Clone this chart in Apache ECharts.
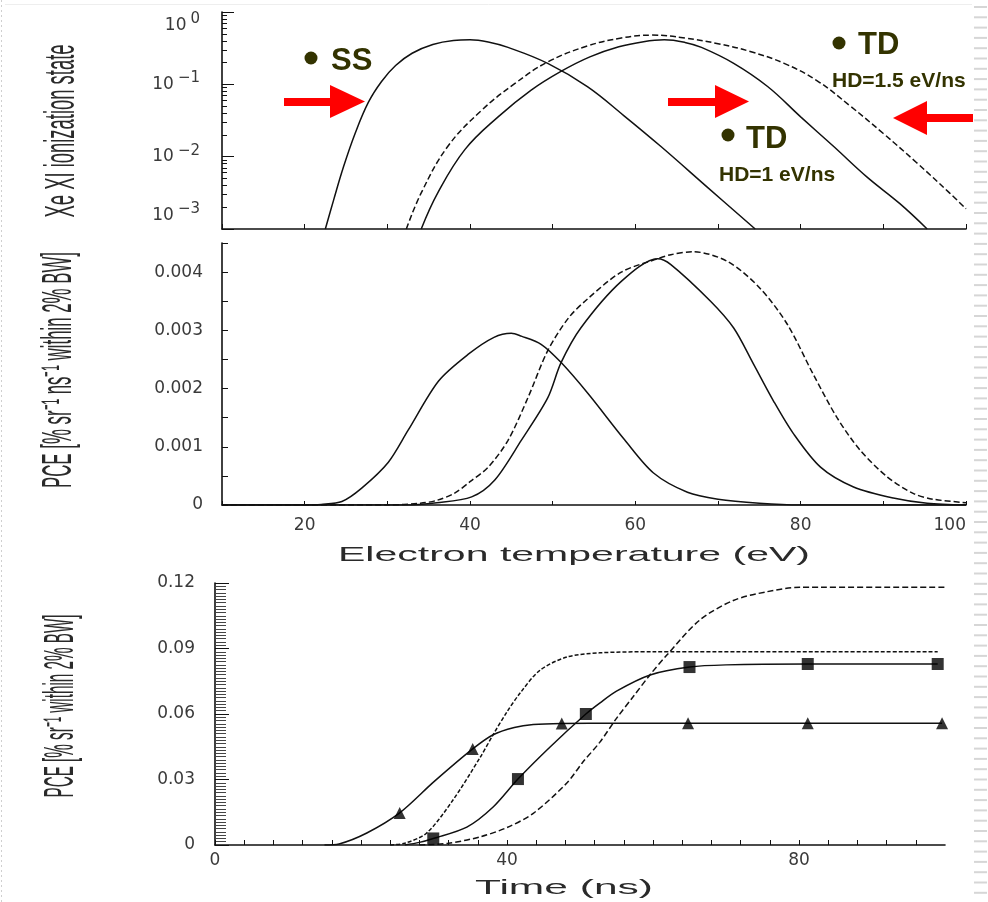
<!DOCTYPE html>
<html><head><meta charset="utf-8">
<script src="https://cdn.jsdelivr.net/npm/echarts@6/dist/echarts.min.js"></script>
<style>html,body{margin:0;padding:0;background:#fff}#c{width:988px;height:902px}</style>
</head><body><div id="c"></div>
<script>
// ---------------- data ----------------
// Top panel: Xe XI ionization state vs electron temperature (log scale)
const ssTopT   = [22.5, 23.5, 24.7, 26.1, 27.7, 29.3, 31.0, 33.0, 35.5, 38.0, 40.0, 42.2, 44.6, 49.4, 54.2, 58.6, 63.1, 68.8, 74.5];
const ssTopV   = [0.001, 0.00251, 0.00724, 0.0209, 0.0562, 0.1096, 0.182, 0.269, 0.355, 0.403, 0.412, 0.385, 0.324, 0.195, 0.093, 0.037, 0.0138, 0.0037, 0.001];
const td1TopT  = [34.1, 36.1, 39.4, 43.4, 47.4, 51.0, 54.5, 58.0, 61.0, 63.5, 66.0, 68.0, 71.9, 76.0, 80.0, 84.0, 88.0, 92.0, 95.3];
const td1TopV  = [0.001, 0.00316, 0.0126, 0.0355, 0.0832, 0.151, 0.24, 0.331, 0.389, 0.412, 0.38, 0.324, 0.195, 0.0933, 0.0355, 0.0138, 0.00525, 0.00224, 0.001];
const td15TopT = [32.3, 34.1, 37.3, 41.4, 45.4, 49.4, 54.2, 58.3, 62.0, 66.0, 70.0, 74.0, 78.0, 82.0, 86.0, 90.0, 94.0, 98.0, 100];
const td15TopV = [0.001, 0.00316, 0.0138, 0.0437, 0.102, 0.204, 0.339, 0.437, 0.479, 0.437, 0.365, 0.282, 0.195, 0.112, 0.0501, 0.0209, 0.00832, 0.00316, 0.0019];

// Middle panel: PCE vs electron temperature
const ssMidT   = [10, 20, 22, 24.5, 26.9, 30.1, 32.5, 36.2, 39.8, 42.9, 45.0, 46.2, 48.6, 51.0, 54.3, 58.7, 62.2, 66.3, 70.0, 75.0, 80.0, 100];
const ssMidV   = [0, 0, 0.00001, 0.00006, 0.00029, 0.00073, 0.00128, 0.00213, 0.00259, 0.00288, 0.00295, 0.0029, 0.00276, 0.00245, 0.00191, 0.00112, 0.00055, 0.00022, 0.0001, 0.00003, 0, 0];
const td1MidT  = [10, 32, 36, 40.2, 43.0, 46.2, 49.4, 51.0, 53.4, 58.3, 62.7, 64.3, 69.1, 71.9, 74.3, 76.7, 79.1, 82.4, 86.4, 91.2, 95.3, 100];
const td1MidV  = [0, 0, 0.00004, 0.00014, 0.00043, 0.00111, 0.00184, 0.00244, 0.00304, 0.00384, 0.00423, 0.00413, 0.0035, 0.00304, 0.00242, 0.00179, 0.00123, 0.00065, 0.00031, 0.00012, 0.00003, 0];
const td15MidT = [10, 30, 34, 36, 38.1, 40, 42.2, 44.6, 47.0, 49.4, 51.9, 54.3, 58.3, 62.7, 64.3, 67.0, 71.2, 75.1, 78.4, 81.5, 84.4, 87.2, 90.5, 93.6, 96.0, 100];
const td15MidV = [0, 0, 0.00003, 0.00008, 0.0002, 0.0004, 0.00065, 0.00111, 0.00184, 0.00265, 0.00321, 0.00355, 0.004, 0.00423, 0.0043, 0.00435, 0.00418, 0.00372, 0.0031, 0.00225, 0.0015, 0.00094, 0.00048, 0.0002, 0.0001, 0.00004];

// Bottom panel: PCE vs time
const triT     = [15, 17, 20.8, 25.3, 30, 35.3, 38.1, 41, 43.6, 47.5, 55, 64.8, 81.2, 99.6];
const triV     = [0, 0.0005, 0.0055, 0.0147, 0.029, 0.044, 0.0505, 0.0538, 0.0552, 0.0557, 0.0558, 0.0558, 0.0558, 0.0558];
const triMarkT = [25.3, 35.3, 47.5, 64.8, 81.2, 99.6];
const triMarkV = [0.0147, 0.044, 0.0557, 0.0558, 0.0558, 0.0558];
const sqT      = [26, 28, 29.9, 34.5, 38.1, 41.5, 45.9, 50.8, 52.7, 55, 59.6, 65, 70, 81.2, 99];
const sqV      = [0, 0.0012, 0.003, 0.0082, 0.0174, 0.0302, 0.0449, 0.060, 0.065, 0.0705, 0.0779, 0.0815, 0.0825, 0.0829, 0.0829];
const sqMarkT  = [29.9, 41.5, 50.8, 65, 81.2, 99];
const sqMarkV  = [0.003, 0.0302, 0.060, 0.0815, 0.0829, 0.0829];
const steepT   = [24, 26, 29, 32.6, 36.3, 38.1, 40, 41.8, 44.5, 48.2, 52.7, 60, 99];
const steepV   = [0, 0.0008, 0.0055, 0.0206, 0.040, 0.0505, 0.061, 0.0696, 0.080, 0.0861, 0.088, 0.0885, 0.0885];
const rightT   = [28, 32, 36.3, 40, 43.6, 48.2, 50.4, 52.7, 55, 57.3, 59.6, 61.9, 66.4, 71, 75.6, 80.1, 100];
const rightV   = [0, 0.0008, 0.0037, 0.008, 0.0145, 0.0284, 0.038, 0.047, 0.058, 0.068, 0.078, 0.087, 0.103, 0.112, 0.116, 0.118, 0.118];

// tick labels
const topYExpLabels = ['\u22123', '\u22122', '\u22121', '0'];
const midXLabels = ['20', '40', '60', '80', '100'];
const midYLabels = ['0', '0.001', '0.002', '0.003', '0.004'];
const botXLabels = ['0', '40', '80'];
const botYLabels = ['0', '0.03', '0.06', '0.09', '0.12'];

// text
const titleTopY = 'Xe XI ionization state';
const titleMidY = 'PCE [% sr\u207B\u00B9 ns\u207B\u00B9 within 2% BW]';
const titleMidX = 'Electron temperature (eV)';
const titleBotY = 'PCE [% sr\u207B\u00B9 within 2% BW]';
const titleBotX = 'Time (ns)';

// ---------------- chart ----------------
const zip = (a, b) => a.map((x, i) => [x, b[i]]);
const INK = '#111';
const LBL = '#3a3a3a';
const TFONT = 'DejaVu Sans';
const mctx = document.createElement('canvas').getContext('2d');
function measure(t, font) { mctx.font = font; return mctx.measureText(t).width; }

function stretchText(text, cx, cy, len, band, fs, vertical) {
  const font = fs + 'px "Liberation Sans", Arial, sans-serif';
  const w = measure(text, font);
  return {
    type: 'text', x: cx, y: cy, rotation: vertical ? Math.PI / 2 : 0,
    scaleX: len / w, scaleY: band / (0.72 * fs), silent: true,
    style: { text, font, fill: '#2a2a2a', textAlign: 'center', textVerticalAlign: 'middle', align: 'center', verticalAlign: 'middle' }
  };
}

const axLine = { show: true, onZero: false, lineStyle: { color: INK, width: 1.6 } };
const lbl = { color: LBL, fontFamily: TFONT, fontSize: 17 };
const near = (v, step) => Math.abs(v / step - Math.round(v / step)) < 1e-6;

const line = (xi, T, V, extra) => Object.assign({
  type: 'line', xAxisIndex: xi, yAxisIndex: xi, data: zip(T, V),
  symbol: 'none', smooth: 0.3, clip: true, silent: true,
  lineStyle: { color: INK, width: 1.5 }
}, extra || {});

const graphic = [];
// slide decorations at edges
for (let y = 7; y < 902; y += 10.3) {
  graphic.push({ type: 'line', shape: { x1: 974, y1: y, x2: 987, y2: y }, style: { stroke: '#d6d6d6', lineWidth: 2 }, silent: true });
}
graphic.push({ type: 'line', shape: { x1: 1.5, y1: 0, x2: 1.5, y2: 902 }, style: { stroke: '#cfcfcf', lineWidth: 1, lineDash: [2, 3] }, silent: true });
graphic.push({ type: 'line', shape: { x1: 5, y1: 4.5, x2: 972, y2: 4.5 }, style: { stroke: '#eeeeee', lineWidth: 1 }, silent: true });

// axis titles (stretched like the scanned figure)
graphic.push(stretchText(titleTopY, 62, 131, 173, 31, 20, true));
graphic.push(stretchText(titleMidY, 60, 370, 236, 30, 20, true));
graphic.push(stretchText(titleBotY, 62, 706, 183, 30, 20, true));
graphic.push(stretchText(titleMidX, 574, 556, 472, 14, 19, false));
graphic.push(stretchText(titleBotX, 564, 889, 178, 14, 19, false));

// annotations
const OLIVE = '#333300';
const ann = (text, x, y, fs) => ({ type: 'text', x, y, silent: true,
  style: { text, font: 'bold ' + fs + 'px "Liberation Sans", Arial, sans-serif', fill: OLIVE, textAlign: 'left', textVerticalAlign: 'middle', align: 'left', verticalAlign: 'middle' } });
const dot = (x, y) => ({ type: 'circle', shape: { cx: x, cy: y, r: 6.5 }, style: { fill: OLIVE }, silent: true });
graphic.push(dot(311, 58), ann('SS', 331, 61, 31));
graphic.push(dot(839, 43), ann('TD', 858, 45, 31), ann('HD=1.5 eV/ns', 832, 81, 21));
graphic.push(dot(728, 135), ann('TD', 746, 139, 31), ann('HD=1 eV/ns', 719, 175, 21));
// red arrows
const RED = '#ff0000';
const rect = (x, y, w, h) => ({ type: 'rect', shape: { x, y, width: w, height: h }, style: { fill: RED }, silent: true });
const tri = (pts) => ({ type: 'polygon', shape: { points: pts }, style: { fill: RED }, silent: true });
graphic.push(rect(284, 98, 48, 8), tri([[330, 85], [365, 101.5], [330, 118]]));
graphic.push(rect(668, 98, 49, 8), tri([[715, 85], [749, 101.5], [715, 118]]));
graphic.push(rect(925, 114, 48, 8), tri([[927, 101], [893, 118], [927, 135]]));

const option = {
  animation: false,
  backgroundColor: '#ffffff',
  grid: [
    { left: 222, top: 12, width: 744, height: 217, containLabel: false, outerBoundsMode: 'none' },
    { left: 222, top: 243, width: 744, height: 262, containLabel: false, outerBoundsMode: 'none' },
    { left: 215, top: 583, width: 730, height: 262, containLabel: false, outerBoundsMode: 'none' }
  ],
  xAxis: [
    { gridIndex: 0, type: 'value', min: 10, max: 100, interval: 10, axisLine: axLine,
      axisTick: { show: true, inside: true, length: 5, lineStyle: { color: INK } },
      axisLabel: { show: false }, splitLine: { show: false } },
    { gridIndex: 1, type: 'value', min: 10, max: 100, interval: 10, axisLine: axLine,
      axisTick: { show: true, inside: true, length: 4, lineStyle: { color: INK } },
      axisLabel: Object.assign({ margin: 12, alignMaxLabel: 'right',
        formatter: v => midXLabels.includes(String(Math.round(v))) && near(v, 20) ? String(Math.round(v)) : '' }, lbl),
      splitLine: { show: false } },
    { gridIndex: 2, type: 'value', min: 0, max: 100, interval: 4, axisLine: axLine,
      axisTick: { show: true, inside: true, length: 5, lineStyle: { color: INK } },
      axisLabel: Object.assign({ margin: 7, showMaxLabel: false,
        formatter: v => near(v, 40) && botXLabels.includes(String(Math.round(v))) ? String(Math.round(v)) : '' }, lbl),
      splitLine: { show: false } }
  ],
  yAxis: [
    { gridIndex: 0, type: 'log', logBase: 10, min: 0.001, max: 1, axisLine: axLine,
      axisTick: { show: true, inside: true, length: 12, lineStyle: { color: INK } },
      minorTick: { show: true, splitNumber: 9, length: 5, lineStyle: { color: INK } },
      axisLabel: { margin: 22, color: LBL, fontFamily: TFONT,
        verticalAlignMaxLabel: 'top', verticalAlignMinLabel: 'bottom',
        formatter: v => { const e = Math.round(Math.log10(v)); return '{b|10}{e|' + topYExpLabels[e + 3] + '}'; },
        rich: { b: { fontSize: 17, fontFamily: TFONT, color: LBL }, e: { fontSize: 15, fontFamily: TFONT, color: LBL, padding: [0, 0, 12, 4] } } },
      splitLine: { show: false }, minorSplitLine: { show: false } },
    { gridIndex: 1, type: 'value', min: 0, max: 0.0045, interval: 0.0005, axisLine: axLine,
      axisTick: { show: true, inside: true, length: 6, lineStyle: { color: INK } },
      axisLabel: Object.assign({ margin: 19,
        formatter: v => { if (!near(v, 0.001)) return ''; const s = v === 0 ? '0' : v.toFixed(3); return midYLabels.includes(s) ? s : ''; } }, lbl),
      splitLine: { show: false } },
    { gridIndex: 2, type: 'value', min: 0, max: 0.12, interval: 0.03, axisLine: axLine,
      axisTick: { show: true, inside: true, length: 14, lineStyle: { color: INK } },
      minorTick: { show: true, splitNumber: 20, length: 11, lineStyle: { color: '#444' } },
      axisLabel: Object.assign({ margin: 20,
        formatter: v => { const s = v === 0 ? '0' : v.toFixed(2); return botYLabels.includes(s) ? s : ''; } }, lbl),
      splitLine: { show: false }, minorSplitLine: { show: false } }
  ],
  series: [
    line(0, ssTopT, ssTopV, { smooth: 0.4 }),
    line(0, td1TopT, td1TopV, { smooth: 0.4 }),
    line(0, td15TopT, td15TopV, { smooth: 0.4, lineStyle: { color: INK, width: 1.5, type: [6, 3] } }),
    line(1, ssMidT, ssMidV),
    line(1, td1MidT, td1MidV),
    line(1, td15MidT, td15MidV, { lineStyle: { color: INK, width: 1.5, type: [6, 3] } }),
    line(2, triT, triV),
    line(2, sqT, sqV),
    line(2, steepT, steepV, { lineStyle: { color: INK, width: 1.5, type: [4, 2] } }),
    line(2, rightT, rightV, { lineStyle: { color: INK, width: 1.5, type: [6, 3] } }),
    { type: 'scatter', xAxisIndex: 2, yAxisIndex: 2, symbol: 'triangle', symbolSize: 12, silent: true, z: 5,
      itemStyle: { color: '#000' }, data: zip(triMarkT, triMarkV) },
    { type: 'scatter', xAxisIndex: 2, yAxisIndex: 2, symbol: 'rect', symbolSize: 12, silent: true, z: 5,
      itemStyle: { color: '#000' }, data: zip(sqMarkT, sqMarkV) }
  ],
  graphic: graphic
};

const chart = echarts.init(document.getElementById('c'), null, { renderer: 'canvas' });
chart.setOption(option);
</script>
</body></html>
